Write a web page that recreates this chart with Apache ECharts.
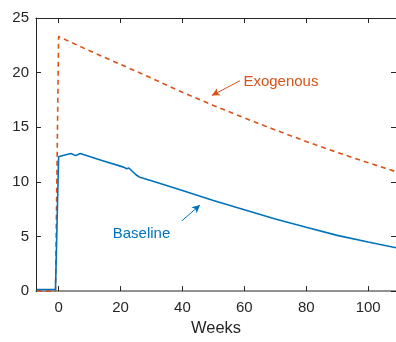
<!DOCTYPE html>
<html>
<head>
<meta charset="utf-8">
<script src="https://cdn.jsdelivr.net/npm/echarts@6/dist/echarts.min.js"></script>
<style>html,body{margin:0;padding:0;background:#fff;}#c{width:396px;height:342px;}</style>
</head>
<body>
<div id="c"></div>
<script>
const baselineWeeks  = [-7, -1, 0, 0.5, 2, 4, 5.5, 7, 14, 21, 22, 22.7, 25, 26, 30, 40, 50, 60, 70, 80, 90, 100, 109];
const baselineValues = [0.15, 0.15, 12.3, 12.25, 12.45, 12.6, 12.4, 12.6, 11.95, 11.35, 11.2, 11.27, 10.65, 10.45, 10.1, 9.2, 8.3, 7.45, 6.6, 5.85, 5.1, 4.5, 3.97];
const exogenousWeeks  = [-7, -1, 0, 10, 20, 30, 40, 50, 60, 70, 80, 90, 100, 109];
const exogenousValues = [0, 0, 23.3, 22.0, 20.75, 19.5, 18.2, 17.0, 15.85, 14.75, 13.7, 12.7, 11.75, 10.93];
const xTicks = [0, 20, 40, 60, 80, 100];
const yTicks = [0, 5, 10, 15, 20, 25];
const xLabel = 'Weeks';
const exoLabel = 'Exogenous';
const baseLabel = 'Baseline';
// annotation anchors in data units [week, value]
const exoText = [59.7, 19.15];
const exoArrow = [[58.6, 19.26], [49.5, 17.9]];
const baseText = [17.5, 5.28];
const baseArrow = [[39.8, 6.43], [45.7, 7.88]];

const BLUE = '#0072BD', ORANGE = '#D95319', AX = '#262626';
const FONT = 'Liberation Sans, Arial, sans-serif';
const zip = (a, b) => a.map((v, i) => [v, b[i]]);
const xmin = -7.3, xmax = 109;

const chart = echarts.init(document.getElementById('c'), null, {renderer: 'canvas'});
chart.setOption({
  animation: false,
  backgroundColor: '#fff',
  grid: {left: 36, right: 0, top: 18, bottom: 48, containLabel: false},
  xAxis: [
    {type: 'value', min: xmin, max: xmax, position: 'bottom',
     axisLine: {show: true, onZero: false, lineStyle: {color: '#6e6e6e', width: 1.5}},
     axisTick: {show: true, inside: true, length: 5, customValues: xTicks, lineStyle: {color: AX}},
     axisLabel: {customValues: xTicks, fontSize: 15, color: AX, margin: 9, fontFamily: FONT},
     splitLine: {show: false},
     name: xLabel, nameLocation: 'middle', nameGap: 28,
     nameTextStyle: {fontSize: 16.5, color: AX, fontFamily: FONT}},
    {type: 'value', min: xmin, max: xmax, position: 'top',
     axisLine: {show: true, onZero: false, lineStyle: {color: AX, width: 1}},
     axisTick: {show: true, inside: true, length: 5, customValues: xTicks, lineStyle: {color: AX}},
     axisLabel: {show: false}, splitLine: {show: false}}
  ],
  yAxis: [
    {type: 'value', min: 0, max: 25, interval: 5, position: 'left',
     axisLine: {show: true, onZero: false, lineStyle: {color: AX, width: 1}},
     axisTick: {show: true, inside: true, length: 5, lineStyle: {color: AX}},
     axisLabel: {fontSize: 15, color: AX, margin: 7, fontFamily: FONT},
     splitLine: {show: false}},
    {type: 'value', min: 0, max: 25, interval: 5, position: 'right',
     axisLine: {show: false, onZero: false},
     axisTick: {show: true, inside: true, length: 5, lineStyle: {color: AX}},
     axisLabel: {show: false}, splitLine: {show: false}}
  ],
  series: [
    {type: 'line', name: exoLabel, data: zip(exogenousWeeks, exogenousValues),
     showSymbol: false, symbol: 'none',
     lineStyle: {color: ORANGE, width: 1.6, type: [5, 4]},
     markLine: {silent: true, symbol: ['none', 'arrow'], symbolSize: [6, 8],
       lineStyle: {color: ORANGE, width: 1, type: 'solid'}, label: {show: false},
       data: [[{coord: exoArrow[0]}, {coord: exoArrow[1]}]]},
     markPoint: {silent: true, symbol: 'circle', symbolSize: 0,
       label: {show: true, position: 'right', distance: 0, formatter: exoLabel,
               color: ORANGE, fontSize: 15, fontFamily: FONT},
       data: [{coord: exoText}]}
    },
    {type: 'line', name: baseLabel, data: zip(baselineWeeks, baselineValues),
     showSymbol: false, symbol: 'none',
     lineStyle: {color: BLUE, width: 1.6},
     markLine: {silent: true, symbol: ['none', 'arrow'], symbolSize: [6, 8],
       lineStyle: {color: BLUE, width: 1, type: 'solid'}, label: {show: false},
       data: [[{coord: baseArrow[0]}, {coord: baseArrow[1]}]]},
     markPoint: {silent: true, symbol: 'circle', symbolSize: 0,
       label: {show: true, position: 'right', distance: 0, formatter: baseLabel,
               color: BLUE, fontSize: 15, fontFamily: FONT},
       data: [{coord: baseText}]}
    }
  ]
});
</script>
</body>
</html>
